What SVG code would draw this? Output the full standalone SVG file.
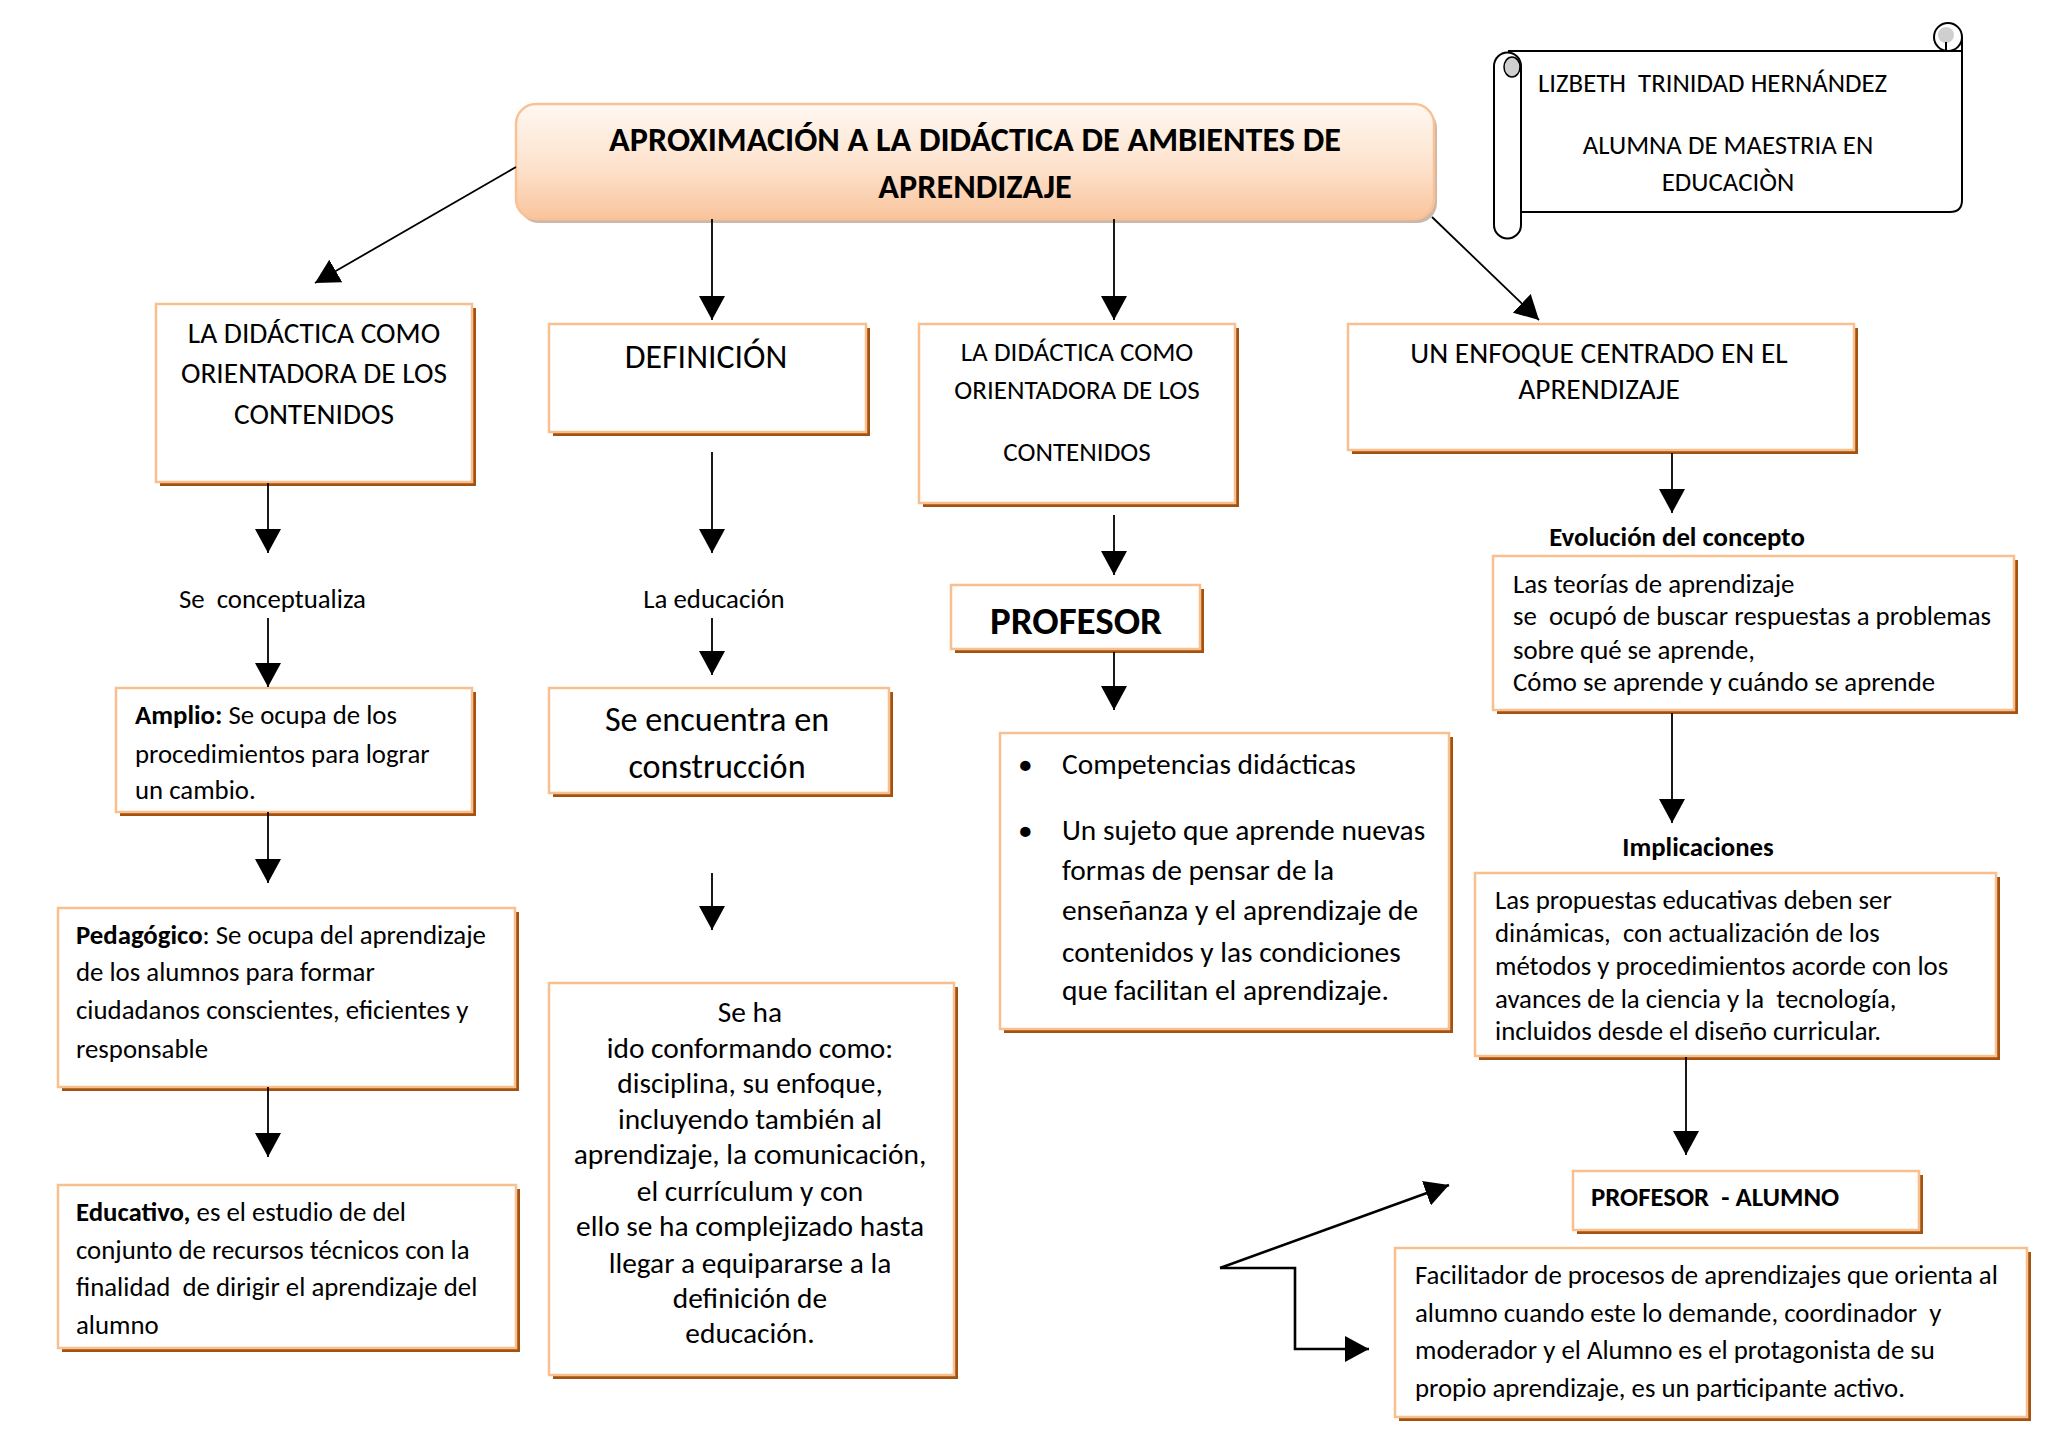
<svg xmlns="http://www.w3.org/2000/svg" width="2048" height="1447" viewBox="0 0 2048 1447">
<defs>
<style>
.t{font-family:Carlito,Lato,"Liberation Sans",sans-serif;fill:#000;transform:translate(0px,1px)}
.b{font-weight:bold}
.m{text-anchor:middle}
.pre{white-space:pre}
.f1{font-size:26.8px}
.f2{font-size:29.4px}
.f3{font-size:34.2px}
.box{fill:#fff;stroke:#f9bf8f;stroke-width:2.5}
.sh{fill:#a3520f}
.c{stroke:#000;stroke-width:1.8;fill:none}
.c2{stroke:#000;stroke-width:2.6;fill:none}
.s{fill:#fff;stroke:#000;stroke-width:2}
</style>
<linearGradient id="tg" x1="0" y1="0" x2="0" y2="1">
<stop offset="0" stop-color="#fff8f2"/>
<stop offset="0.55" stop-color="#fde2cc"/>
<stop offset="1" stop-color="#f9c49c"/>
</linearGradient>
<marker id="ah" viewBox="0 0 24 26" refX="24" refY="13" markerWidth="24" markerHeight="26" markerUnits="userSpaceOnUse" orient="auto">
<path d="M0,0 L24,13 L0,26 Z" fill="#000"/>
</marker>
</defs>
<rect width="2048" height="1447" fill="#fff"/>

<g id="title">
<rect x="519" y="108" width="918" height="115" rx="20" fill="#cdb8a8"/>
<rect x="516" y="104" width="918" height="115" rx="20" fill="url(#tg)" stroke="#f9c196" stroke-width="2.5"/>
<text class="t b m f3" x="975" y="150">APROXIMACIÓN A LA DIDÁCTICA DE AMBIENTES DE</text>
<text class="t b m f3" x="975" y="197">APRENDIZAJE</text>
</g>

<g id="scroll">
<circle cx="1948" cy="37" r="14" class="s"/>
<ellipse cx="1946" cy="35" rx="8" ry="8" fill="#cfcfcf"/>
<rect x="1508" y="51" width="454" height="161" fill="#fff"/>
<path d="M1508,51 L1950,51 M1962,37 L1962,200 Q1962,212 1950,212 L1521,212 M1946,42 L1946,51 L1962,51" fill="none" stroke="#000" stroke-width="2"/>
<path class="s" d="M1494,66 A13.5,13.5 0 0 1 1521,66 L1521,225 A13.5,13.5 0 0 1 1494,225 Z"/>
<ellipse cx="1512" cy="67" rx="8" ry="10" fill="#cfcfcf" stroke="#000" stroke-width="1.5"/>
<text class="t pre f1" x="1538" y="91">LIZBETH  TRINIDAD HERNÁNDEZ</text>
<text class="t m f1" x="1728" y="153">ALUMNA DE MAESTRIA EN</text>
<text class="t m f1" x="1728" y="190">EDUCACIÒN</text>
</g>

<g id="n-didactica1">
<rect class="sh" x="160" y="308" width="316" height="178"/>
<rect class="box" x="156" y="304" width="316" height="178"/>
<text class="t m f2" x="314" y="342">LA DIDÁCTICA COMO</text>
<text class="t m f2" x="314" y="382">ORIENTADORA DE LOS</text>
<text class="t m f2" x="314" y="423">CONTENIDOS</text>
</g>

<g id="n-definicion">
<rect class="sh" x="553" y="328" width="317" height="108"/>
<rect class="box" x="549" y="324" width="317" height="108"/>
<text class="t m" x="706" y="367" font-size="33.8">DEFINICIÓN</text>
</g>

<g id="n-didactica2">
<rect class="sh" x="923" y="328" width="316" height="179"/>
<rect class="box" x="919" y="324" width="316" height="179"/>
<text class="t m" x="1077" y="360" font-size="27.1">LA DIDÁCTICA COMO</text>
<text class="t m" x="1077" y="398" font-size="27.1">ORIENTADORA DE LOS</text>
<text class="t m" x="1077" y="460" font-size="27.1">CONTENIDOS</text>
</g>

<g id="n-enfoque">
<rect class="sh" x="1352" y="328" width="506" height="126"/>
<rect class="box" x="1348" y="324" width="506" height="126"/>
<text class="t m f2" x="1599" y="362">UN ENFOQUE CENTRADO EN EL</text>
<text class="t m f2" x="1599" y="398">APRENDIZAJE</text>
</g>

<g id="l-conceptualiza">
<text class="t pre f1" x="179" y="607">Se  conceptualiza</text>
</g>
<g id="l-educacion">
<text class="t m f1" x="714" y="607">La educación</text>
</g>

<g id="n-amplio">
<rect class="sh" x="120" y="692" width="356" height="124"/>
<rect class="box" x="116" y="688" width="356" height="124"/>
<text class="t f1" x="135" y="723"><tspan class="b">Amplio:</tspan> Se ocupa de los</text>
<text class="t f1" x="135" y="762">procedimientos para lograr</text>
<text class="t f1" x="135" y="798">un cambio.</text>
</g>

<g id="n-construccion">
<rect class="sh" x="553" y="692" width="340" height="105"/>
<rect class="box" x="549" y="688" width="340" height="105"/>
<text class="t m f3" x="717" y="730">Se encuentra en</text>
<text class="t m f3" x="717" y="777">construcción</text>
</g>

<g id="n-profesor">
<rect class="sh" x="955" y="589" width="249" height="64"/>
<rect class="box" x="951" y="585" width="249" height="64"/>
<text class="t b m" x="1076" y="633" font-size="39">PROFESOR</text>
</g>

<g id="n-competencias">
<rect class="sh" x="1004" y="737" width="449" height="296"/>
<rect class="box" x="1000" y="733" width="449" height="296"/>
<text class="t f2" x="1018" y="773">•</text>
<text class="t f2" x="1062" y="773">Competencias didácticas</text>
<text class="t f2" x="1018" y="839">•</text>
<text class="t f2" x="1062" y="839">Un sujeto que aprende nuevas</text>
<text class="t f2" x="1062" y="879">formas de pensar de la</text>
<text class="t f2" x="1062" y="919">enseñanza y el aprendizaje de</text>
<text class="t f2" x="1062" y="961">contenidos y las condiciones</text>
<text class="t f2" x="1062" y="999">que facilitan el aprendizaje.</text>
</g>

<g id="l-evolucion">
<text class="t b m f1" x="1677" y="545">Evolución del concepto</text>
</g>

<g id="n-teorias">
<rect class="sh" x="1497" y="560" width="521" height="154"/>
<rect class="box" x="1493" y="556" width="521" height="154"/>
<text class="t f1" x="1513" y="592">Las teorías de aprendizaje</text>
<text class="t pre f1" x="1513" y="624">se  ocupó de buscar respuestas a problemas</text>
<text class="t f1" x="1513" y="658">sobre qué se aprende,</text>
<text class="t f1" x="1513" y="690">Cómo se aprende y cuándo se aprende</text>
</g>

<g id="l-implicaciones">
<text class="t b m f1" x="1698" y="855">Implicaciones</text>
</g>

<g id="n-propuestas">
<rect class="sh" x="1479" y="877" width="521" height="183"/>
<rect class="box" x="1475" y="873" width="521" height="183"/>
<text class="t f1" x="1495" y="908">Las propuestas educativas deben ser</text>
<text class="t pre f1" x="1495" y="941">dinámicas,  con actualización de los</text>
<text class="t f1" x="1495" y="974">métodos y procedimientos acorde con los</text>
<text class="t pre f1" x="1495" y="1007">avances de la ciencia y la  tecnología,</text>
<text class="t f1" x="1495" y="1039">incluidos desde el diseño curricular.</text>
</g>

<g id="n-pedagogico">
<rect class="sh" x="62" y="912" width="457" height="179"/>
<rect class="box" x="58" y="908" width="457" height="179"/>
<text class="t f1" x="76" y="943"><tspan class="b">Pedagógico</tspan>: Se ocupa del aprendizaje</text>
<text class="t f1" x="76" y="980">de los alumnos para formar</text>
<text class="t f1" x="76" y="1018">ciudadanos conscientes, eficientes y</text>
<text class="t f1" x="76" y="1057">responsable</text>
</g>

<g id="n-seha">
<rect class="sh" x="553" y="987" width="405" height="392"/>
<rect class="box" x="549" y="983" width="405" height="392"/>
<text class="t m f2" x="750" y="1021">Se ha</text>
<text class="t m f2" x="750" y="1057">ido conformando como:</text>
<text class="t m f2" x="750" y="1092">disciplina, su enfoque,</text>
<text class="t m f2" x="750" y="1128">incluyendo también al</text>
<text class="t m f2" x="750" y="1163">aprendizaje, la comunicación,</text>
<text class="t m f2" x="750" y="1200">el currículum y con</text>
<text class="t m f2" x="750" y="1235">ello se ha complejizado hasta</text>
<text class="t m f2" x="750" y="1272">llegar a equipararse a la</text>
<text class="t m f2" x="750" y="1307">definición de</text>
<text class="t m f2" x="750" y="1342">educación.</text>
</g>

<g id="n-educativo">
<rect class="sh" x="62" y="1189" width="458" height="163"/>
<rect class="box" x="58" y="1185" width="458" height="163"/>
<text class="t f1" x="76" y="1220"><tspan class="b">Educativo,</tspan> es el estudio de del</text>
<text class="t f1" x="76" y="1258">conjunto de recursos técnicos con la</text>
<text class="t pre f1" x="76" y="1295">finalidad  de dirigir el aprendizaje del</text>
<text class="t f1" x="76" y="1333">alumno</text>
</g>

<g id="n-profesor-alumno">
<rect class="sh" x="1577" y="1175" width="346" height="59"/>
<rect class="box" x="1573" y="1171" width="346" height="59"/>
<text class="t b pre f1" x="1591" y="1205">PROFESOR  - ALUMNO</text>
</g>

<g id="n-facilitador">
<rect class="sh" x="1399" y="1252" width="632" height="169"/>
<rect class="box" x="1395" y="1248" width="632" height="169"/>
<text class="t f1" x="1415" y="1283">Facilitador de procesos de aprendizajes que orienta al</text>
<text class="t pre f1" x="1415" y="1321">alumno cuando este lo demande, coordinador  y</text>
<text class="t f1" x="1415" y="1358">moderador y el Alumno es el protagonista de su</text>
<text class="t f1" x="1415" y="1396">propio aprendizaje, es un participante activo.</text>
</g>

<g id="connectors">
<line class="c" x1="516" y1="167" x2="315" y2="283" marker-end="url(#ah)"/>
<line class="c" x1="712" y1="219" x2="712" y2="320" marker-end="url(#ah)"/>
<line class="c" x1="1114" y1="219" x2="1114" y2="320" marker-end="url(#ah)"/>
<line class="c" x1="1432" y1="217" x2="1539" y2="320" marker-end="url(#ah)"/>
<line class="c" x1="268" y1="483" x2="268" y2="553" marker-end="url(#ah)"/>
<line class="c" x1="268" y1="618" x2="268" y2="687" marker-end="url(#ah)"/>
<line class="c" x1="268" y1="812" x2="268" y2="883" marker-end="url(#ah)"/>
<line class="c" x1="268" y1="1087" x2="268" y2="1157" marker-end="url(#ah)"/>
<line class="c" x1="712" y1="452" x2="712" y2="553" marker-end="url(#ah)"/>
<line class="c" x1="712" y1="618" x2="712" y2="675" marker-end="url(#ah)"/>
<line class="c" x1="712" y1="873" x2="712" y2="930" marker-end="url(#ah)"/>
<line class="c" x1="1114" y1="515" x2="1114" y2="575" marker-end="url(#ah)"/>
<line class="c" x1="1114" y1="652" x2="1114" y2="710" marker-end="url(#ah)"/>
<line class="c" x1="1672" y1="453" x2="1672" y2="513" marker-end="url(#ah)"/>
<line class="c" x1="1672" y1="713" x2="1672" y2="823" marker-end="url(#ah)"/>
<line class="c" x1="1686" y1="1057" x2="1686" y2="1155" marker-end="url(#ah)"/>
<line class="c2" x1="1220" y1="1268" x2="1449" y2="1185" marker-end="url(#ah)"/>
<polyline class="c2" points="1220,1268 1295,1268 1295,1349 1369,1349" marker-end="url(#ah)"/>
</g>
</svg>
